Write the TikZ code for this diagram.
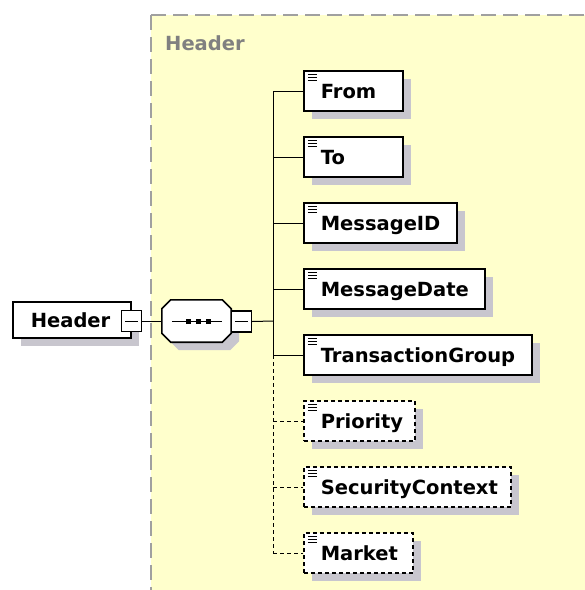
\documentclass[tikz,border=0pt]{standalone}
\usepackage{fontspec}
\setmainfont{DejaVu Sans}
\usetikzlibrary{shadows}
\definecolor{paper}{HTML}{FFFFCC}
\definecolor{shadowgray}{HTML}{C8C6CE}
\definecolor{bordergray}{HTML}{A0A0A0}
\definecolor{labelgray}{HTML}{808080}
\newcommand\seqoutline{([xshift=9pt]seq.north west) -- ([xshift=-9pt]seq.north east)
  -- ([yshift=-9pt]seq.north east) -- ([yshift=9pt]seq.south east)
  -- ([xshift=-9pt]seq.south east) -- ([xshift=9pt]seq.south west)
  -- ([yshift=9pt]seq.south west) -- ([yshift=-9pt]seq.north west) -- cycle}
\begin{document}
\begin{tikzpicture}[x=1pt,y=-1pt,
  lblfont/.style={font=\fontsize{19.5}{20}\selectfont\bfseries},
  shadowed/.style={drop shadow={shadow xshift=8pt,shadow yshift=-8pt,fill=shadowgray,opacity=1}},
  elembox/.style={draw=black, line width=1.6pt, fill=white, shadowed, rectangle,
    inner sep=0pt, minimum height=40pt, text height=14pt, text depth=0pt,
    text width=#1, align=left, anchor=west, lblfont,
    path picture={\draw[solid,line width=1pt]
      ([xshift=4pt,yshift=-3.5pt]path picture bounding box.north west) -- ++(9pt,0pt)
      ([xshift=4pt,yshift=-6.5pt]path picture bounding box.north west) -- ++(9pt,0pt)
      ([xshift=4pt,yshift=-9.5pt]path picture bounding box.north west) -- ++(9pt,0pt);}},
  optbox/.style={elembox=#1, dash pattern=on 4pt off 3pt},
  rootbox/.style={draw=black, line width=1.6pt, fill=white, shadowed, rectangle,
    inner sep=0pt, minimum height=36pt, text height=14pt, text depth=0pt,
    text width=#1, align=left, anchor=west, lblfont},
  minusbox/.style={draw=black, line width=1.3pt, fill=white, rectangle,
    minimum width=20pt, minimum height=21pt, inner sep=0pt,
    path picture={\draw[line width=1pt]
      ([xshift=3.5pt]path picture bounding box.west) -- ([xshift=-3.5pt]path picture bounding box.east);}},
  seqframe/.style={rectangle, minimum width=69pt, minimum height=42pt, inner sep=0pt},
  conn/.style={draw=black, line width=1pt},
  optconn/.style={conn, dash pattern=on 4pt off 3pt}
]
\useasboundingbox (0,0) rectangle (585,590);
\fill[white] (0,0) rectangle (585,590);
% group background
\fill[paper] (151,15) rectangle (585,590);
\draw[bordergray, line width=2pt, dash pattern=on 15pt off 7pt] (151,15) -- (585,15);
\draw[bordergray, line width=2pt, dash pattern=on 15pt off 7pt] (151,15) -- (151,590);
\node[lblfont, text=labelgray, anchor=base west, inner sep=0pt] (grouplabel) at (165,50) {Header};

% root
\node[rootbox=118pt] (root) at (12,320) {\hspace*{18pt}Header};
\node[minusbox] (rootminus) at (131.5,321) {};

% sequence compositor (octagon)
\node[seqframe] (seq) at (196.5,321) {};
\fill[fill=shadowgray, transform canvas={shift={(8pt,-8pt)}}] \seqoutline;
\filldraw[fill=white, draw=black, line width=1.6pt] \seqoutline;
\draw[line width=1pt] ([xshift=10pt]seq.west) -- ([xshift=-9pt]seq.east);
\foreach \dx in {-8.5,1.5,11.5}
  \fill ([xshift=\dx pt]seq.center) +(-2.5pt,-2.5pt) rectangle +(2.5pt,2.5pt);
\node[minusbox] (seqminus) at (241.5,321.5) {};
\coordinate (trunk) at (273,321);

% children
\node[elembox=99pt]  (from)    at (303,91)  {\hspace*{17pt}From};
\node[elembox=99pt]  (to)      at (303,157) {\hspace*{17pt}To};
\node[elembox=153pt] (msgid)   at (303,223) {\hspace*{17pt}MessageID};
\node[elembox=181pt] (msgdate) at (303,289) {\hspace*{17pt}MessageDate};
\node[elembox=228pt] (tg)      at (303,355) {\hspace*{17pt}TransactionGroup};
\node[optbox=111pt]  (prio)    at (303,421) {\hspace*{17pt}Priority};
\node[optbox=207pt]  (secctx)  at (303,487) {\hspace*{17pt}SecurityContext};
\node[optbox=109pt]  (market)  at (303,553) {\hspace*{17pt}Market};

% connectors
\draw[conn] (rootminus.east) -- (seq.west);
\draw[conn] (seqminus.east) -- (trunk);
\foreach \n in {from,to,msgid,msgdate,tg}
  \draw[conn] (trunk) |- (\n.west);
\draw[optconn] (trunk |- tg.west) -- (trunk |- market.west);
\foreach \n in {prio,secctx,market}
  \draw[optconn] (trunk |- \n.west) -- (\n.west);
\end{tikzpicture}
\end{document}
